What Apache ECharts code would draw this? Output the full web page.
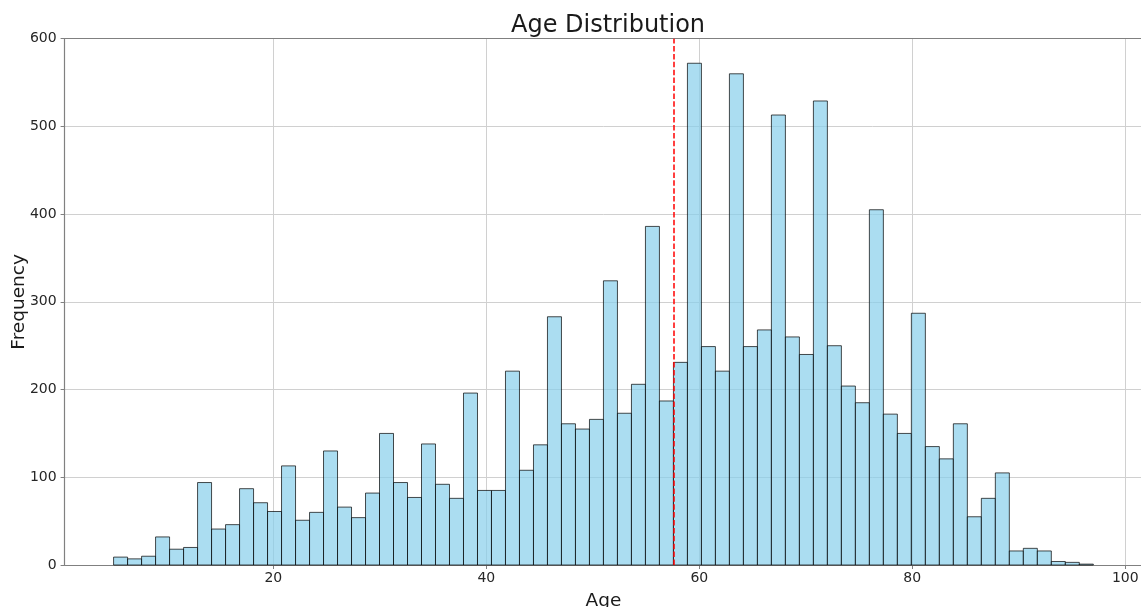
<!DOCTYPE html>
<html>
<head>
<meta charset="utf-8">
<script src="https://cdn.jsdelivr.net/npm/echarts@6/dist/echarts.min.js"></script>
<style>
html,body{margin:0;padding:0;background:#fff;}
#chart{width:1141px;height:607px;}
</style>
</head>
<body>
<div id="chart"></div>
<script>
// Histogram of ages: 70 bins from 5 to 97
var binStart = 5;
var binEnd = 97;
var counts = [
  9, 7, 10, 32, 18, 20, 94, 41, 46, 87,
  71, 61, 113, 51, 60, 130, 66, 54, 82, 150,
  94, 77, 138, 92, 76, 196, 85, 85, 221, 108,
  137, 283, 161, 155, 166, 324, 173, 206, 386, 187,
  231, 572, 249, 221, 560, 249, 268, 513, 260, 240,
  529, 250, 204, 185, 405, 172, 150, 287, 135, 121,
  161, 55, 76, 105, 16, 19, 16, 4, 3, 1
];
var meanAge = 57.6;
var xTicks = [20, 40, 60, 80, 100];
var yTicks = [0, 100, 200, 300, 400, 500, 600];

var binWidth = (binEnd - binStart) / counts.length;
var histData = counts.map(function (c, i) {
  return [binStart + i * binWidth, binStart + (i + 1) * binWidth, c];
});

var chart = echarts.init(document.getElementById('chart'), null, {renderer: 'canvas'});
var font = 'DejaVu Sans';
var spine = '#808080';
var gridCol = '#d0d0d0';

chart.setOption({
  animation: false,
  backgroundColor: '#fff',
  title: {
    text: 'Age Distribution',
    left: 506, top: 9,
    textStyle: {fontFamily: font, fontSize: 24, fontWeight: 'normal', color: '#1a1a1a'}
  },
  grid: {left: 64.6, top: 38.7, width: 1077.7, height: 526.3, outerBoundsMode: 'none', containLabel: false},
  xAxis: [{
    type: 'value', min: 0.4, max: 101.6,
    name: 'Age', nameLocation: 'middle', nameGap: 27, nameMoveOverlap: false,
    nameTextStyle: {fontFamily: font, fontSize: 18.5, color: '#1a1a1a'},
    axisLine: {show: true, onZero: false, lineStyle: {color: spine, width: 1.2}},
    axisTick: {show: true, length: 4, customValues: xTicks, lineStyle: {color: spine, width: 1}},
    axisLabel: {customValues: xTicks, margin: 6, fontFamily: font, fontSize: 14, color: '#262626'},
    splitLine: {show: true, lineStyle: {color: gridCol, width: 1}}
  }, {
    type: 'value', position: 'top', min: 0.4, max: 101.6,
    axisLine: {show: true, onZero: false, lineStyle: {color: spine, width: 1.2}},
    axisTick: {show: false}, axisLabel: {show: false}, splitLine: {show: false}
  }],
  yAxis: {
    type: 'value', min: 0, max: 600, interval: 100,
    name: 'Frequency', nameLocation: 'middle', nameGap: 36, nameMoveOverlap: false,
    nameTextStyle: {fontFamily: font, fontSize: 18.5, color: '#1a1a1a'},
    axisLine: {show: true, onZero: false, lineStyle: {color: spine, width: 1.2}},
    axisTick: {show: true, length: 4, lineStyle: {color: spine, width: 1}},
    axisLabel: {margin: 8, fontFamily: font, fontSize: 14, color: '#262626'},
    splitLine: {show: true, lineStyle: {color: gridCol, width: 1}}
  },
  series: [{
    type: 'custom',
    xAxisIndex: 0,
    data: histData,
    encode: {x: [0, 1], y: 2},
    renderItem: function (params, api) {
      var p0 = api.coord([api.value(0), api.value(2)]);
      var p1 = api.coord([api.value(1), 0]);
      return {
        type: 'rect',
        shape: {x: p0[0], y: p0[1], width: p1[0] - p0[0], height: p1[1] - p0[1]},
        style: {fill: 'rgba(135,206,235,0.7)', stroke: 'rgba(0,0,0,0.7)', lineWidth: 1}
      };
    },
    markLine: {
      silent: true, symbol: 'none',
      label: {show: false},
      lineStyle: {color: '#ff0000', type: [5.5, 2.4], width: 1.5},
      data: [{xAxis: meanAge}]
    }
  }]
});
</script>
</body>
</html>
